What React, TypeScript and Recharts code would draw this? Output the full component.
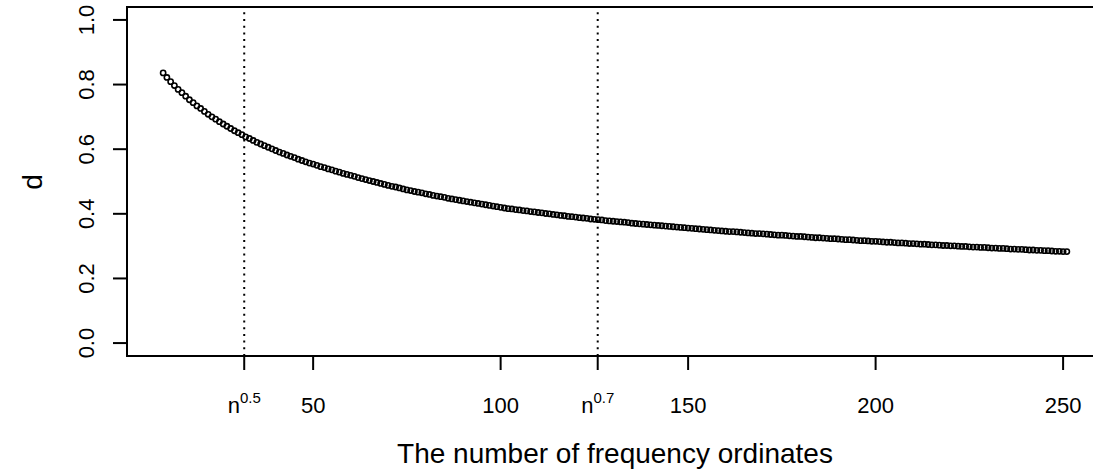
import React from 'react';
import {
  ComposedChart,
  Scatter,
  XAxis,
  YAxis,
  ReferenceLine,
  ReferenceArea,
} from 'recharts';

// first m on the x axis; d values below are for m = 10, 11, ..., 251
const FIRST_M = 10;

const dValues = [
  0.836, 0.822, 0.809, 0.797, 0.785, 0.775, 0.764, 0.753, 0.744, 0.734,
  0.726, 0.717, 0.708, 0.700, 0.693, 0.685, 0.678, 0.671, 0.664, 0.657,
  0.651, 0.645, 0.638, 0.633, 0.627, 0.621, 0.616, 0.611, 0.606, 0.601,
  0.596, 0.591, 0.587, 0.582, 0.578, 0.574, 0.569, 0.565, 0.561, 0.557,
  0.554, 0.550, 0.546, 0.543, 0.539, 0.536, 0.532, 0.529, 0.525, 0.522,
  0.519, 0.516, 0.512, 0.509, 0.506, 0.503, 0.500, 0.497, 0.494, 0.491,
  0.488, 0.485, 0.483, 0.480, 0.477, 0.474, 0.472, 0.469, 0.467, 0.465,
  0.462, 0.460, 0.457, 0.455, 0.453, 0.451, 0.448, 0.446, 0.444, 0.442,
  0.440, 0.438, 0.436, 0.434, 0.432, 0.430, 0.428, 0.426, 0.424, 0.422,
  0.420, 0.418, 0.416, 0.415, 0.413, 0.412, 0.410, 0.409, 0.407, 0.406,
  0.404, 0.403, 0.401, 0.400, 0.398, 0.397, 0.395, 0.394, 0.392, 0.391,
  0.390, 0.388, 0.387, 0.386, 0.384, 0.383, 0.382, 0.381, 0.379, 0.378,
  0.377, 0.376, 0.375, 0.374, 0.373, 0.371, 0.370, 0.369, 0.368, 0.367,
  0.366, 0.365, 0.364, 0.363, 0.362, 0.361, 0.360, 0.359, 0.358, 0.357,
  0.356, 0.355, 0.354, 0.353, 0.352, 0.351, 0.350, 0.349, 0.348, 0.347,
  0.346, 0.345, 0.345, 0.344, 0.343, 0.342, 0.341, 0.340, 0.339, 0.339,
  0.338, 0.337, 0.336, 0.335, 0.334, 0.334, 0.333, 0.332, 0.331, 0.330,
  0.330, 0.329, 0.328, 0.327, 0.326, 0.326, 0.325, 0.324, 0.323, 0.323,
  0.322, 0.321, 0.320, 0.320, 0.319, 0.318, 0.317, 0.317, 0.316, 0.315,
  0.315, 0.314, 0.313, 0.312, 0.312, 0.311, 0.310, 0.310, 0.309, 0.308,
  0.308, 0.307, 0.306, 0.306, 0.305, 0.304, 0.304, 0.303, 0.302, 0.302,
  0.301, 0.301, 0.300, 0.299, 0.299, 0.298, 0.297, 0.297, 0.296, 0.296,
  0.295, 0.294, 0.294, 0.293, 0.293, 0.292, 0.291, 0.291, 0.290, 0.290,
  0.289, 0.288, 0.288, 0.287, 0.287, 0.286, 0.286, 0.285, 0.284, 0.284,
  0.283, 0.283,
];

// n = 1000: n^0.5 and n^0.7 marked with dotted lines
const markerTicks = [31.62, 125.89];
const markerLabels = ['0.5', '0.7'];
const xTicks = [31.62, 50, 100, 125.89, 150, 200, 250];
const yTicks = [0, 0.2, 0.4, 0.6, 0.8, 1.0];

const xLabel = 'The number of frequency ordinates';
const yLabel = 'd';

const points = dValues.map((d, i) => ({ m: FIRST_M + i, d }));

const FONT = '"Liberation Sans", Arial, Helvetica, sans-serif';

function XTick(props: any) {
  const { x, payload } = props;
  const idx = markerTicks.indexOf(payload.value);
  if (idx >= 0) {
    return (
      <text x={x} y={413} textAnchor="middle" fontFamily={FONT} fontSize={22} fill="#000">
        <tspan>n</tspan>
        <tspan fontSize={15} dy={-10}>{markerLabels[idx]}</tspan>
      </text>
    );
  }
  return (
    <text x={x} y={413} textAnchor="middle" fontFamily={FONT} fontSize={22} fill="#000">
      {payload.value}
    </text>
  );
}

function YTick(props: any) {
  const { y, payload } = props;
  const bx = 94;
  return (
    <text
      x={bx}
      y={y}
      transform={`rotate(-90, ${bx}, ${y})`}
      textAnchor="middle"
      fontFamily={FONT}
      fontSize={22}
      fill="#000"
    >
      {payload.value.toFixed(1)}
    </text>
  );
}

function XTitle() {
  return (
    <text x={615} y={463} textAnchor="middle" fontFamily={FONT} fontSize={28} fill="#000">
      {xLabel}
    </text>
  );
}

function YTitle() {
  return (
    <text
      x={42}
      y={182}
      transform="rotate(-90, 42, 182)"
      textAnchor="middle"
      fontFamily={FONT}
      fontSize={28}
      fill="#000"
    >
      {yLabel}
    </text>
  );
}

const OpenCircle = (props: any) => (
  <circle cx={props.cx} cy={props.cy} r={2.6} fill="none" stroke="#000" strokeWidth={1.6} />
);

export default function App() {
  return (
    <div
      style={{
        position: 'absolute',
        left: 0,
        top: 0,
        width: 1093,
        height: 473,
        overflow: 'hidden',
        background: '#fff',
      }}
    >
      <ComposedChart
        width={1110}
        height={473}
        data={points}
        margin={{ top: 7, right: 7, bottom: 0, left: 0 }}
      >
        <XAxis
          dataKey="m"
          type="number"
          domain={[0.36, 260.64]}
          allowDataOverflow
          ticks={xTicks}
          interval={0}
          height={117}
          tickSize={14}
          axisLine={{ stroke: '#000', strokeWidth: 2 }}
          tickLine={{ stroke: '#000', strokeWidth: 2 }}
          tick={<XTick />}
          label={<XTitle />}
        />
        <YAxis
          dataKey="d"
          type="number"
          domain={[-0.04, 1.04]}
          allowDataOverflow
          ticks={yTicks}
          interval={0}
          width={127}
          tickSize={14}
          axisLine={{ stroke: '#000', strokeWidth: 2 }}
          tickLine={{ stroke: '#000', strokeWidth: 2 }}
          tick={<YTick />}
          label={<YTitle />}
        />
        <ReferenceArea
          x1={0.36}
          x2={260.64}
          y1={-0.04}
          y2={1.04}
          fill="none"
          fillOpacity={0}
          stroke="#000"
          strokeWidth={2}
          strokeOpacity={1}
        />
        {markerTicks.map((v) => (
          <ReferenceLine
            key={v}
            x={v}
            stroke="#000"
            strokeWidth={2}
            strokeDasharray="2 4.7"
          />
        ))}
        <Scatter dataKey="d" shape={OpenCircle} isAnimationActive={false} />
      </ComposedChart>
    </div>
  );
}
